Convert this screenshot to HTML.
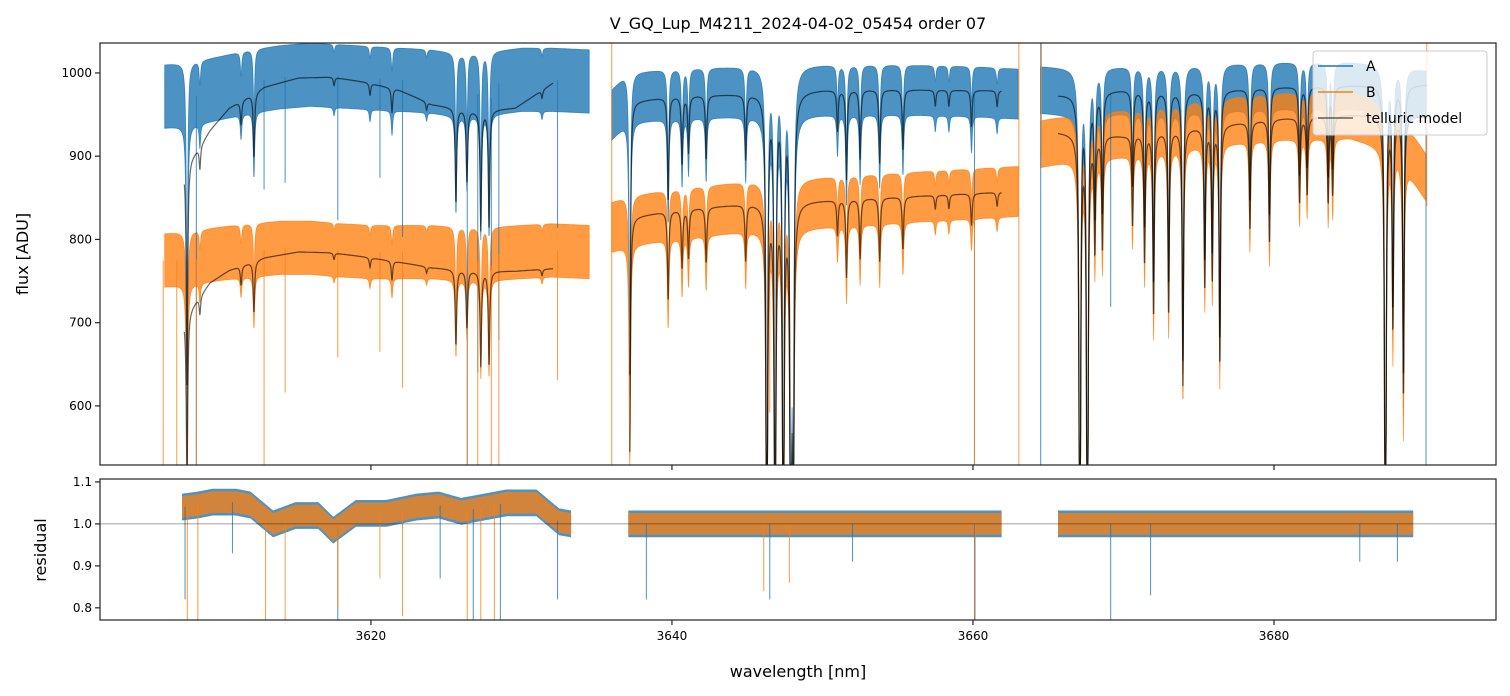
<!DOCTYPE html>
<html><head><meta charset="utf-8">
<style>
html,body{margin:0;padding:0;background:#fff;width:1510px;height:696px;overflow:hidden;}
svg{display:block;font-family:"DejaVu Sans","Liberation Sans",sans-serif;}
</style></head>
<body>
<svg id="chart" width="1510" height="696" viewBox="0 0 1510 696" xmlns="http://www.w3.org/2000/svg">
<defs>
<clipPath id="clipTop"><rect x="100" y="43" width="1396" height="422"/></clipPath>
<clipPath id="clipBot"><rect x="100" y="479" width="1396" height="141"/></clipPath>
</defs>
<rect x="0" y="0" width="1510" height="696" fill="#fff"/>
<text x="798" y="29" font-size="16" text-anchor="middle" fill="#000">V_GQ_Lup_M4211_2024-04-02_05454  order 07</text>
<g id="topMarks" clip-path="url(#clipTop)"></g>
<g id="botMarks" clip-path="url(#clipBot)"></g>
<g id="axes"></g>
<text x="0" y="0" font-size="16" text-anchor="middle" transform="translate(28,254) rotate(-90)">flux [ADU]</text>
<text x="0" y="0" font-size="16" text-anchor="middle" transform="translate(46,550) rotate(-90)">residual</text>
<text x="798" y="677" font-size="16" text-anchor="middle">wavelength [nm]</text>
<g>
<rect x="1313" y="51" width="174" height="84" rx="3" fill="#fff" fill-opacity="0.8" stroke="#ccc"/>
<line x1="1318" y1="66" x2="1353" y2="66" stroke="#1f77b4" stroke-width="1.5"/>
<text x="1366" y="71" font-size="14">A</text>
<line x1="1318" y1="92" x2="1353" y2="92" stroke="#ff7f0e" stroke-width="1.5"/>
<text x="1366" y="97" font-size="14">B</text>
<line x1="1318" y1="118" x2="1353" y2="118" stroke="#000" stroke-opacity="0.6" stroke-width="1.5"/>
<text x="1366" y="123" font-size="14">telluric model</text>
</g>
</svg>
<script>
// ---- data ----
const xTicks = [3620, 3640, 3660, 3680];
const yTicksFlux = [600, 700, 800, 900, 1000];
const yTicksRes = [0.8, 0.9, 1.0, 1.1];

const telluricLam = [3607.78,3608.64,3611.37,3612.23,3617.55,3619.94,3621.4,3623.7,3625.65,3626.38,3627.3,3627.85,3631.37,
  3637.2,3639.75,3640.67,3641.1,3642.27,3644.9,3646.3,3646.85,3647.4,3647.9,3648.05,3651.0,3651.6,3652.5,3653.8,3655.35,3657.5,3658.4,3659.9,3661.6,
  3667.1,3667.6,3668.1,3668.6,3670.6,3671.4,3672.0,3673.0,3673.95,3675.4,3675.9,3676.4,3678.4,3679.7,3681.7,3682.2,3683.6,3683.9,3687.4,3687.9,3688.6];
const telluricDepth = [0.30,0.03,0.03,0.08,0.01,0.015,0.03,0.01,0.12,0.09,0.15,0.15,0.01,
  0.34,0.13,0.085,0.07,0.08,0.08,0.7,0.7,0.7,0.75,0.6,0.05,0.11,0.085,0.09,0.075,0.02,0.02,0.045,0.02,
  0.75,0.75,0.15,0.15,0.12,0.17,0.24,0.24,0.33,0.21,0.2,0.31,0.14,0.16,0.11,0.1,0.11,0.1,0.75,0.27,0.36];

const dataLamA1 = [3606.3,3608,3610,3612,3614,3616,3618,3620,3622,3624,3626,3628,3630,3632,3634.5];
const dataA1 = [972,975,982,990,995,998,996,994,992,990,985,988,992,992,990];
const dataB1 = [775,778,783,787,790,790,787,785,785,785,783,783,785,787,785];
const dataLam2 = [3636,3637,3640,3645,3650,3655,3660,3663];
const dataA2 = [950,970,975,978,980,980,978,975];
const dataB2 = [815,822,830,840,845,850,855,858];
const dataLam3 = [3664.5,3667,3670,3675,3680,3685,3688,3690.1];
const dataA3 = [980,978,980,982,985,985,982,975];
const dataB3 = [915,925,928,940,948,950,935,875];
const bandHalfA = [38, 30, 28];
const bandHalfB = [32, 30, 28];

const modelLam1 = [3607.6,3608.6,3609.3,3610.6,3612.9,3615.2,3617.4,3619.6,3621.8,3624.1,3627,3629.6,3632.1];
const modelA1 = [889,911,931,958,983,994,995,989,980,962,954,958,988];
const modelB1 = [707,731,748,763,778,785,784,779,773,766,762,762,765];
const modelLam2 = [3637.2,3640,3645,3650,3655,3661.9];
const modelA2 = [965,972,975,980,980,979];
const modelB2 = [826,835,843,847,851,857];
const modelLam3 = [3665.65,3670,3675,3680,3685,3690.2];
const modelA3 = [974,980,978,983,985,986];
const modelB3 = [929,925,935,945,950,948];

const spikeLam = [3606.2,3607.1,3607.8,3607.8,3608.4,3608.4,3612.9,3612.9,3614.3,3614.3,3617.8,3617.8,3620.6,3620.6,3622.1,3622.1,3626.4,3626.4,3627.1,3627.1,3628.0,3628.0,3628.5,3628.5,3632.4,3632.4,
  3646.5,3660.1,3660.1,3669.15,3673.95,3679.7];
const spikeSeries = ['B','B','A','B','A','B','A','B','A','B','A','B','A','B','A','B','A','B','A','B','A','B','A','B','A','B',
  'B','A','B','A','B','B'];
const spikeMin = [529,529,529,529,529,529,860,529,868,616,823,658,874,665,803,622,529,529,640,529,763,529,679,529,814,631,
  592,529,529,719,617,784];

const edgeLam = [3636.0,3663.05,3664.5,3664.55,3690.1,3690.15];
const edgeSeries = ['B','B','A','B','A','B'];
const edgeTop = [1036,1036,1036,1036,960,1036];
const edgeBottom = [529,529,529,900,529,840];

const resLam1 = [3607.45,3608.5,3609.5,3611,3612,3613.5,3615,3616.5,3617.5,3619,3621,3623,3624.5,3626,3627.5,3629,3631,3632.5,3633.3];
const resC1 = [1.04,1.045,1.052,1.052,1.045,1.0,1.02,1.02,0.985,1.025,1.025,1.04,1.045,1.03,1.04,1.05,1.05,1.005,1.0];
const resLam2 = [3637.1,3645,3655,3661.9];
const resC2 = [1.0,1.0,1.0,1.0];
const resLam3 = [3665.65,3675,3685,3689.25];
const resC3 = [1.0,1.0,1.0,1.0];
const resHalfA = 0.032;
const resHalfB = 0.026;
const resSpikeLam = [3607.65,3607.8,3608.5,3610.8,3613.0,3614.3,3617.8,3617.8,3620.6,3622.1,3624.6,3626.4,3626.8,3627.3,3628.2,3628.6,3632.4,
  3638.3,3646.1,3646.5,3647.8,3652.0,3660.1,3660.15,3669.15,3671.8,3685.7,3688.2];
const resSpikeSeries = ['A','B','B','A','B','B','A','B','B','B','A','B','A','B','B','A','A',
  'A','B','A','B','A','A','B','A','A','A','A'];
const resSpikeMin = [0.82,0.77,0.77,0.93,0.77,0.77,0.77,0.80,0.87,0.78,0.87,0.77,0.77,0.77,0.77,0.77,0.82,
  0.82,0.84,0.82,0.86,0.91,0.77,0.77,0.77,0.83,0.91,0.91];

// ---- axes ----
const X0 = 3602.0, X1 = 3694.75, PX0 = 100, PX1 = 1496;
const sx = v => PX0 + (v - X0) / (X1 - X0) * (PX1 - PX0);
const FY0 = 529, FY1 = 1036, FT = 43, FB = 465;
const clamp = (v, a, b) => Math.max(a, Math.min(b, v));
const sy = v => clamp(FB - (v - FY0) / (FY1 - FY0) * (FB - FT), FT, FB);
const RY0 = 0.771, RY1 = 1.107, RT = 479, RB = 620;
const sr = v => clamp(RB - (v - RY0) / (RY1 - RY0) * (RB - RT), RT, RB);
const C = {A:'#1f77b4', B:'#ff7f0e'};
const NS = 'http://www.w3.org/2000/svg';

function interp(xs, ys, x){
  if (x <= xs[0]) return ys[0];
  for (let i = 1; i < xs.length; i++) if (x <= xs[i]) { const t = (x - xs[i-1])/(xs[i]-xs[i-1]); return ys[i-1] + t*(ys[i]-ys[i-1]); }
  return ys[ys.length-1];
}
function trans(l){
  let t = 1;
  for (let i = 0; i < telluricLam.length; i++){ const u = (l - telluricLam[i]) / 0.055; t *= 1 - telluricDepth[i] / (1 + u*u); }
  return t;
}
function mk(tag, parent){ const e = document.createElementNS(NS, tag); parent.appendChild(e); return e; }

const topG = document.getElementById('topMarks');
const botG = document.getElementById('botMarks');
const axesG = document.getElementById('axes');

function band(lams, vals, hw, color, name, op){
  const a = lams[0], b = lams[lams.length-1];
  const upper = [], lower = [];
  for (let l = a; l <= b + 1e-9; l += 0.02){
    const c = interp(lams, vals, l) * trans(l);
    upper.push(sx(l).toFixed(1)+','+sy(c+hw).toFixed(1));
    lower.push(sx(l).toFixed(1)+','+sy(c-hw).toFixed(1));
  }
  const p = mk('polygon', topG);
  p.setAttribute('points', upper.concat(lower.reverse()).join(' '));
  p.setAttribute('fill', color); p.setAttribute('fill-opacity', op);
  p.setAttribute('stroke', color); p.setAttribute('stroke-opacity', op); p.setAttribute('stroke-width', '0.8');
  
  
}
function modelLine(lams, vals, name){
  const pts = [];
  for (let l = lams[0]; l <= lams[lams.length-1] + 1e-9; l += 0.02) pts.push(sx(l).toFixed(1)+','+sy(interp(lams, vals, l)*trans(l)).toFixed(1));
  const p = mk('polyline', topG);
  p.setAttribute('points', pts.join(' '));
  p.setAttribute('fill', 'none'); p.setAttribute('stroke', '#000'); p.setAttribute('stroke-opacity', '0.6'); p.setAttribute('stroke-width', '1.2');
  
  
}
function vline(parent, x, y1, y2, color, name){
  const l = mk('line', parent);
  l.setAttribute('x1', x); l.setAttribute('x2', x); l.setAttribute('y1', y1); l.setAttribute('y2', y2);
  l.setAttribute('stroke', color); l.setAttribute('stroke-width', '1'); l.setAttribute('stroke-opacity', '0.8');
  
  
}

const segA = [[dataLamA1, dataA1],[dataLam2, dataA2],[dataLam3, dataA3]];
const segB = [[dataLamA1, dataB1],[dataLam2, dataB2],[dataLam3, dataB3]];
segA.forEach((s,i)=>band(s[0], s[1], bandHalfA[i], C.A, 'spectrum-a-segment-'+(i+1), '0.8'));
segB.forEach((s,i)=>band(s[0], s[1], bandHalfB[i], C.B, 'spectrum-b-segment-'+(i+1), '0.78'));
function contAt(series, l){
  const segs = series === 'A' ? segA : segB;
  for (const s of segs) if (l >= s[0][0] - 0.2 && l <= s[0][s[0].length-1] + 0.2) return interp(s[0], s[1], l) * trans(l);
  return 900;
}
spikeLam.forEach((l,i)=>{
  vline(topG, sx(l), sy(contAt(spikeSeries[i], l)), sy(spikeMin[i]), C[spikeSeries[i]], 'spike-'+spikeSeries[i].toLowerCase());
});
edgeLam.forEach((l,i)=>{
  vline(topG, sx(l), sy(edgeTop[i]), sy(edgeBottom[i]), C[edgeSeries[i]], 'edge-artefact-'+edgeSeries[i].toLowerCase());
});
modelLine(modelLam1, modelA1, 'telluric-model-a-1');
modelLine(modelLam1, modelB1, 'telluric-model-b-1');
modelLine(modelLam2, modelA2, 'telluric-model-a-2');
modelLine(modelLam2, modelB2, 'telluric-model-b-2');
modelLine(modelLam3, modelA3, 'telluric-model-a-3');
modelLine(modelLam3, modelB3, 'telluric-model-b-3');

function resBand(lams, vals, hw, color, name, op){
  const upper = [], lower = [];
  for (let l = lams[0]; l <= lams[lams.length-1] + 1e-9; l += 0.05){
    const c = interp(lams, vals, l);
    upper.push(sx(l).toFixed(1)+','+sr(c+hw).toFixed(1));
    lower.push(sx(l).toFixed(1)+','+sr(c-hw).toFixed(1));
  }
  const p = mk('polygon', botG);
  p.setAttribute('points', upper.concat(lower.reverse()).join(' '));
  p.setAttribute('fill', color); p.setAttribute('fill-opacity', op);
  
  
}
const resSegs = [[resLam1,resC1],[resLam2,resC2],[resLam3,resC3]];
resSegs.forEach((s,i)=>resBand(s[0], s[1], resHalfA, C.A, 'residual-a-segment-'+(i+1), '0.8'));
resSegs.forEach((s,i)=>resBand(s[0], s[1], resHalfB, C.B, 'residual-b-segment-'+(i+1), '0.75'));
function resAt(l){ for (const s of resSegs) if (l >= s[0][0]-0.2 && l <= s[0][s[0].length-1]+0.2) return interp(s[0], s[1], l); return 1; }
resSpikeLam.forEach((l,i)=>{
  vline(botG, sx(l), sr(resAt(l)), sr(resSpikeMin[i]), C[resSpikeSeries[i]], 'residual-spike-'+resSpikeSeries[i].toLowerCase());
});
const ref = mk('line', botG);
ref.setAttribute('x1', PX0); ref.setAttribute('x2', PX1); ref.setAttribute('y1', sr(1)); ref.setAttribute('y2', sr(1));
ref.setAttribute('stroke', '#000'); ref.setAttribute('stroke-opacity', '0.5'); ref.setAttribute('stroke-width', '0.8');



[[FT,FB,'flux-panel-frame'],[RT,RB,'residual-panel-frame']].forEach(f=>{
  const r = mk('rect', axesG);
  r.setAttribute('x', PX0); r.setAttribute('y', f[0]); r.setAttribute('width', PX1-PX0); r.setAttribute('height', f[1]-f[0]);
  r.setAttribute('fill', 'none'); r.setAttribute('stroke', '#222'); r.setAttribute('stroke-width', '1.2');
  
  
});
function tick(x1,y1,x2,y2,name){
  const l = mk('line', axesG);
  l.setAttribute('x1',x1); l.setAttribute('y1',y1); l.setAttribute('x2',x2); l.setAttribute('y2',y2);
  l.setAttribute('stroke','#222'); l.setAttribute('stroke-width','1.2');
  
  
}
function label(x,y,txt,anchor,name){
  const t = mk('text', axesG);
  t.setAttribute('x',x); t.setAttribute('y',y); t.setAttribute('font-size','12'); t.setAttribute('text-anchor',anchor);
  t.textContent = txt;
  
  
}
xTicks.forEach(v=>{
  tick(sx(v), FB, sx(v), FB+5, 'x-tick-top-panel');
  tick(sx(v), RB, sx(v), RB+5, 'x-tick');
  label(sx(v), RB+20, String(v), 'middle', 'x-tick-label');
});
yTicksFlux.forEach(v=>{
  tick(PX0-5, sy(v), PX0, sy(v), 'y-tick-flux');
  label(PX0-8, sy(v)+4, String(v), 'end', 'y-tick-label-flux');
});
yTicksRes.forEach(v=>{
  tick(PX0-5, sr(v), PX0, sr(v), 'y-tick-residual');
  label(PX0-8, sr(v)+4, v.toFixed(1), 'end', 'y-tick-label-residual');
});
</script>
</body></html>
